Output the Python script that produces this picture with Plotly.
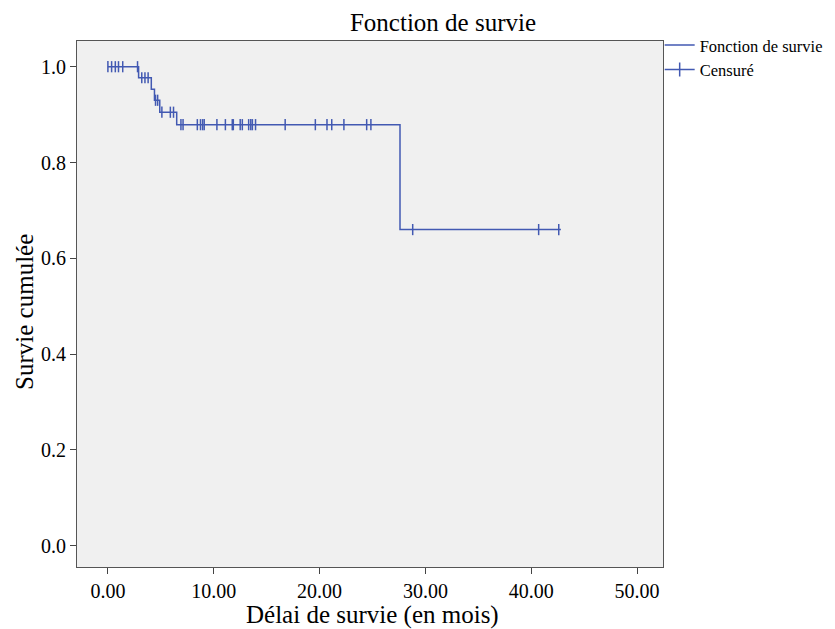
import plotly.graph_objects as go

# Kaplan-Meier step function (time in months, cumulative survival)
step_times = [0.0, 2.9, 4.1, 4.4, 4.9, 6.5, 27.6, 42.8]
step_surv = [1.0, 0.977, 0.953, 0.930, 0.905, 0.879, 0.660, 0.660]

# Censored observations
censor_times = [0.0, 0.35, 0.7, 1.0, 1.4, 2.8,
                3.2, 3.5, 3.8,
                4.5, 4.7,
                5.1, 5.9, 6.2,
                6.9, 7.1, 8.45, 8.75, 8.95, 9.1, 10.3, 11.1, 11.75, 11.85,
                12.5, 12.7, 13.3, 13.5, 13.65, 13.95, 16.75, 19.6, 20.7,
                21.15, 22.3, 24.45, 24.85,
                28.8, 40.7, 42.6]
censor_surv = [1.0, 1.0, 1.0, 1.0, 1.0, 1.0,
               0.977, 0.977, 0.977,
               0.930, 0.930,
               0.905, 0.905, 0.905,
               0.879, 0.879, 0.879, 0.879, 0.879, 0.879, 0.879, 0.879, 0.879, 0.879,
               0.879, 0.879, 0.879, 0.879, 0.879, 0.879, 0.879, 0.879, 0.879,
               0.879, 0.879, 0.879, 0.879,
               0.660, 0.660, 0.660]

x_ticks = [0, 10, 20, 30, 40, 50]
y_ticks = [0.0, 0.2, 0.4, 0.6, 0.8, 1.0]

BLUE = "#4259B2"
FONT = "Liberation Serif"

fig = go.Figure()
fig.add_trace(go.Scatter(
    x=step_times, y=step_surv, mode="lines", line_shape="hv",
    line=dict(color=BLUE, width=1.5), name="Fonction de survie",
    hoverinfo="skip"))
fig.add_trace(go.Scatter(
    x=censor_times, y=censor_surv, mode="markers",
    marker=dict(symbol="line-ns", size=8, line=dict(color=BLUE, width=1.5)),
    name="Censuré", showlegend=False))
# legend entry for censored marks
fig.add_trace(go.Scatter(
    x=[None], y=[None], mode="lines+markers",
    line=dict(color=BLUE, width=1.5),
    marker=dict(symbol="line-ns", size=10, line=dict(color=BLUE, width=1.5)),
    name="Censuré"))

fig.update_layout(
    width=827, height=621,
    margin=dict(l=69, r=172, t=33, b=62, autoexpand=False),
    paper_bgcolor="white", plot_bgcolor="#F0F0F0",
    font=dict(family=FONT, color="black", size=20),
    title=dict(text="Fonction de survie", x=0.526, xref="container", xanchor="center",
               y=0.977, yref="container", yanchor="middle",
               font=dict(family=FONT, size=25, color="black")),
    showlegend=True,
    legend=dict(x=0.788, y=0.968, xref="container", yref="container",
                xanchor="left", yanchor="top",
                font=dict(family=FONT, size=16.5, color="black"),
                bgcolor="rgba(0,0,0,0)", tracegroupgap=0, itemwidth=30),
    annotations=[
        dict(text="Délai de survie (en mois)", xref="paper", yref="paper",
             x=0.505, y=-0.0913, xanchor="center", yanchor="middle",
             showarrow=False, font=dict(family=FONT, size=25, color="black")),
        dict(text="Survie cumulée", xref="paper", yref="paper",
             x=-0.0887, y=0.485, xanchor="center", yanchor="middle",
             textangle=-90, showarrow=False,
             font=dict(family=FONT, size=25, color="black")),
    ],
)
fig.update_xaxes(
    range=[-2.92, 52.45], tickvals=x_ticks, tickformat=".2f",
    ticks="outside", ticklen=6, tickcolor="#444", showgrid=False, zeroline=False,
    showline=True, linecolor="#555", linewidth=1, mirror=True,
    tickfont=dict(family=FONT, size=20, color="black"),
)
fig.update_yaxes(
    range=[-0.0445, 1.0537], tickvals=y_ticks, tickformat=".1f",
    ticks="outside", ticklen=6, tickcolor="#444", showgrid=False, zeroline=False,
    showline=True, linecolor="#555", linewidth=1, mirror=True,
    tickfont=dict(family=FONT, size=20, color="black"),
)

fig.write_html("out.html")
